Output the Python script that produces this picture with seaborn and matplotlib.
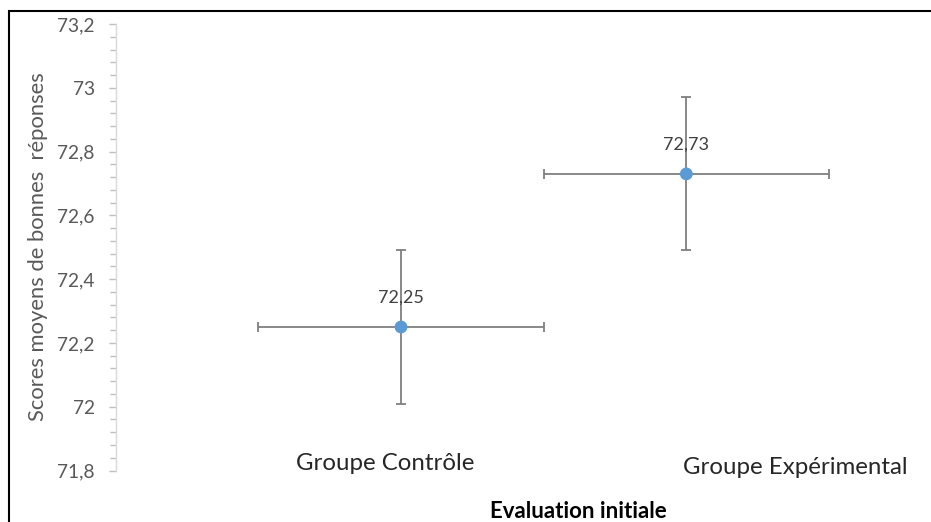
import matplotlib
matplotlib.use("Agg")
import matplotlib.pyplot as plt
import seaborn as sns
import pandas as pd
from matplotlib.patches import Rectangle
from matplotlib.ticker import FuncFormatter, MultipleLocator

# données
groupes = ["Groupe Contrôle", "Groupe Expérimental"]
x_pos = [1, 2]
moyennes = [72.25, 72.73]
err_y = [0.24, 0.24]
err_x = [0.5, 0.5]
etiquettes = ["72,25", "72,73"]
y_ticks = [71.8, 72.0, 72.2, 72.4, 72.6, 72.8, 73.0, 73.2]
titre_x = "Evaluation initiale"
titre_y = "Scores moyens de bonnes  réponses"

df = pd.DataFrame({"groupe": groupes, "x": x_pos, "moyenne": moyennes})

sns.set_theme(style="white")
plt.rcParams['font.family'] = ['Lato', 'DejaVu Sans']

fig = plt.figure(figsize=(9.31, 5.22), dpi=100)
ax = fig.add_axes([115.7 / 931, 1 - 470.5 / 522, 1 - 115.7 / 931, (470.5 - 24) / 522])

# barres d'erreur (x et y)
ax.errorbar(df["x"], df["moyenne"], xerr=err_x, yerr=err_y, fmt="none",
            ecolor="#7f7f7f", elinewidth=1.3, capsize=3.8, capthick=1.3, zorder=2)
sns.scatterplot(data=df, x="x", y="moyenne", ax=ax, color="#5b9bd5", s=85,
                edgecolor="none", zorder=3)

for xv, yv, lab in zip(df["x"], df["moyenne"], etiquettes):
    ax.annotate(lab, (xv, yv), xytext=(0, 21), textcoords="offset points",
                ha="center", va="center", fontsize=13, color="#404040")

ax.set_xlim(0, (931 - 115.7) / 285.3)
ax.set_ylim(71.8, 73.2)
ax.set_yticks(y_ticks)
ax.yaxis.set_minor_locator(MultipleLocator(0.04))
ax.yaxis.set_major_formatter(FuncFormatter(lambda v, p: ('%g' % round(v, 1)).replace('.', ',')))
ax.set_xticks([])
ax.tick_params(axis="y", which="both", left=True, direction="out", length=5,
               width=1, color="#bfbfbf", labelsize=13.8, labelcolor="#595959", pad=10)
ax.tick_params(axis="y", which="minor", length=4)
for s in ["top", "right", "bottom"]:
    ax.spines[s].set_visible(False)
ax.spines["left"].set_color("#d9d9d9")
ax.spines["left"].set_linewidth(1)
ax.set_xlabel("")
ax.set_ylabel("")

# titres et noms des groupes
fig.text(38 / 931, 1 - 247 / 522, titre_y, rotation=90, ha="center", va="center",
         fontsize=15.8, color="#595959")
fig.text(385 / 931, 1 - 463 / 522, groupes[0], ha="center", va="center",
         fontsize=17.3, color="#262626")
fig.text(795 / 931, 1 - 468 / 522, groupes[1], ha="center", va="center",
         fontsize=17.3, color="#262626")
fig.text(578 / 931, 1 - 511.5 / 522, titre_x, ha="center", va="center",
         fontsize=16, fontweight="bold", color="black")

# cadre noir (gauche et haut)
fig.add_artist(Rectangle((8.5 / 931, -0.2), 1.2, 0.2 + (1 - 11.5 / 522),
                         transform=fig.transFigure, fill=False, edgecolor="black",
                         linewidth=1.5))

fig.savefig("out.png", dpi=100)
